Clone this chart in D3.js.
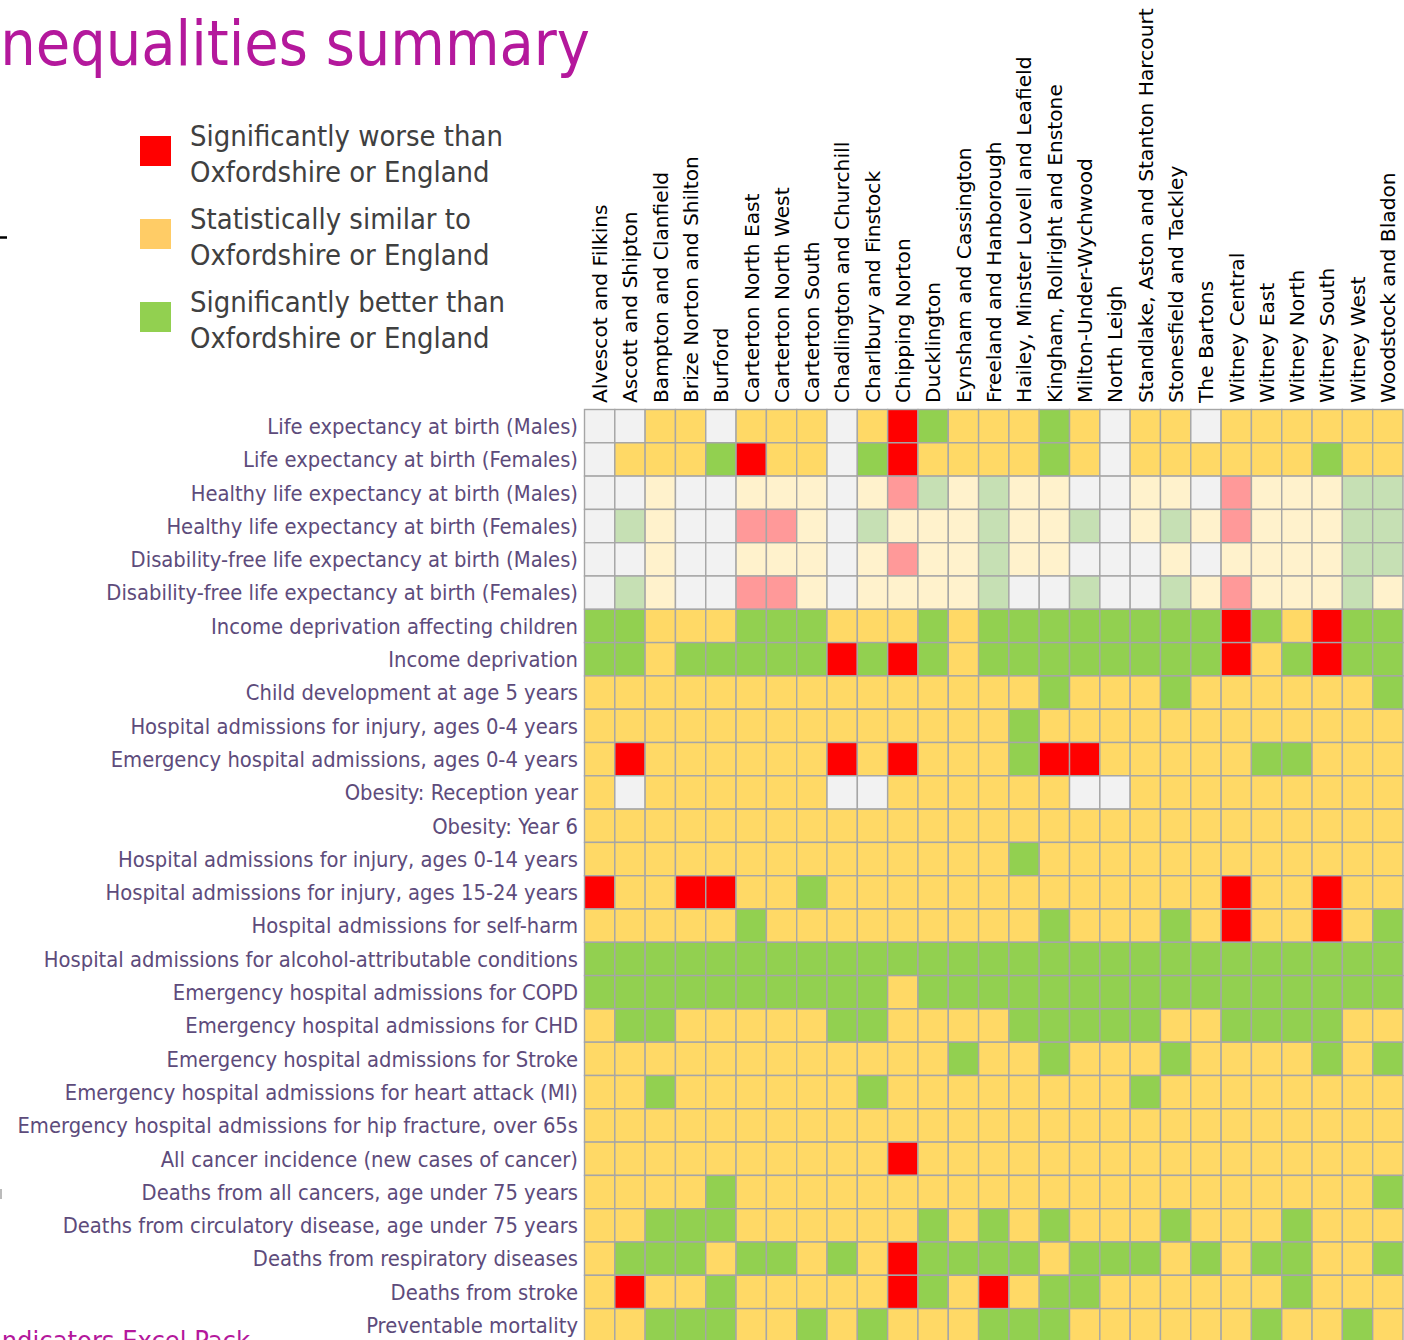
<!DOCTYPE html>
<html lang="en">
<head>
<meta charset="UTF-8"/>
<title>Inequalities summary</title>
<script src="https://cdn.jsdelivr.net/npm/d3@7"></script>
<style>
  body { margin: 0; background: #fff; overflow: hidden; }
  text { font-family: "DejaVu Sans Condensed", "DejaVu Sans", sans-serif; }
  .col-label { font-family: "DejaVu Sans", sans-serif; fill: #000; }
  .row-label { fill: #5d4b7b; }
  .legend-label { fill: #404040; }
  .title { fill: #b4189c; }
</style>
</head>
<body>
<script>

const wards = [
  "Alvescot and Filkins", "Ascott and Shipton", "Bampton and Clanfield",
  "Brize Norton and Shilton", "Burford", "Carterton North East",
  "Carterton North West", "Carterton South", "Chadlington and Churchill",
  "Charlbury and Finstock", "Chipping Norton", "Ducklington",
  "Eynsham and Cassington", "Freeland and Hanborough",
  "Hailey, Minster Lovell and Leafield", "Kingham, Rollright and Enstone",
  "Milton-Under-Wychwood", "North Leigh", "Standlake, Aston and Stanton Harcourt",
  "Stonesfield and Tackley", "The Bartons", "Witney Central", "Witney East",
  "Witney North", "Witney South", "Witney West", "Woodstock and Bladon"
]

const indicators = [
  "Life expectancy at birth (Males)",
  "Life expectancy at birth (Females)",
  "Healthy life expectancy at birth (Males)",
  "Healthy life expectancy at birth (Females)",
  "Disability-free life expectancy at birth (Males)",
  "Disability-free life expectancy at birth (Females)",
  "Income deprivation affecting children",
  "Income deprivation",
  "Child development at age 5 years",
  "Hospital admissions for injury, ages 0-4 years",
  "Emergency hospital admissions, ages 0-4 years",
  "Obesity: Reception year",
  "Obesity: Year 6",
  "Hospital admissions for injury, ages 0-14 years",
  "Hospital admissions for injury, ages 15-24 years",
  "Hospital admissions for self-harm",
  "Hospital admissions for alcohol-attributable conditions",
  "Emergency hospital admissions for COPD",
  "Emergency hospital admissions for CHD",
  "Emergency hospital admissions for Stroke",
  "Emergency hospital admissions for heart attack (MI)",
  "Emergency hospital admissions for hip fracture, over 65s",
  "All cancer incidence (new cases of cancer)",
  "Deaths from all cancers, age under 75 years",
  "Deaths from circulatory disease, age under 75 years",
  "Deaths from respiratory diseases",
  "Deaths from stroke",
  "Preventable mortality"
]

// one letter per ward: R worse, Y similar, G better, W no data,
// lower case = same result shown faded
const status = [
  "WWYYWYYYW" + "YRGYYYGYW" + "YYWYYYYYY",
  "WYYYGRYYW" + "GRYYYYGYW" + "YYYYYYGYY",
  "WWyWWyyyW" + "yrgygyyWW" + "yyWryyygg",
  "WgyWWrryW" + "gyyygyygW" + "ygyryyygg",
  "WWyWWyyyW" + "yryygyyWW" + "WyWyyyygg",
  "WgyWWrryW" + "yyyygWWgW" + "Wgyryyygy",
  "GGYYYGGGY" + "YYGYGGGGG" + "GGGRGYRGG",
  "GGYGGGGGR" + "GRGYGGGGG" + "GGGRYGRGG",
  "YYYYYYYYY" + "YYYYYYGYY" + "YGYYYYYYG",
  "YYYYYYYYY" + "YYYYYGYYY" + "YYYYYYYYY",
  "YRYYYYYYR" + "YRYYYGRRY" + "YYYYGGYYY",
  "YWYYYYYYW" + "WYYYYYYWW" + "YYYYYYYYY",
  "YYYYYYYYY" + "YYYYYYYYY" + "YYYYYYYYY",
  "YYYYYYYYY" + "YYYYYGYYY" + "YYYYYYYYY",
  "RYYRRYYGY" + "YYYYYYYYY" + "YYYRYYRYY",
  "YYYYYGYYY" + "YYYYYYGYY" + "YGYRYYRYG",
  "GGGGGGGGG" + "GGGGGGGGG" + "GGGGGGGGG",
  "GGGGGGGGG" + "GYGGGGGGG" + "GGGGGGGGG",
  "YGGYYYYYG" + "GYYYYGGGG" + "GYYGGGGYY",
  "YYYYYYYYY" + "YYYGYYGYY" + "YGYYYYGYG",
  "YYGYYYYYY" + "GYYYYYYYY" + "GYYYYYYYY",
  "YYYYYYYYY" + "YYYYYYYYY" + "YYYYYYYYY",
  "YYYYYYYYY" + "YRYYYYYYY" + "YYYYYYYYY",
  "YYYYGYYYY" + "YYYYYYYYY" + "YYYYYYYYG",
  "YYGGGYYYY" + "YYGYGYGYY" + "YGYYYGYYY",
  "YGGGYGGYG" + "YRGGGGYGG" + "GYGYGGYYG",
  "YRYYGYYYY" + "YRGYRYGGY" + "YYYYYGYYY",
  "YYGGGYYGY" + "GYYYGGGYY" + "YYYYGYYGY"
]

const statusCodes = ["R", "Y", "G", "W", "r", "y", "g"]

const legendLabels = [
  ["Significantly worse than", "Oxfordshire or England"],
  ["Statistically similar to", "Oxfordshire or England"],
  ["Significantly better than", "Oxfordshire or England"]
]
const legendCodes = ["R", "Y", "G"]

const titleText = "Inequalities summary"
const footerText = "Indicators Excel Pack"

const outerWidth = 1404,
      outerHeight = 1340

const grid = {left: 584.5, right: 1403, top: 409.5, rowHeight: 33.3}

const colour = d3.scaleOrdinal()
    .domain(statusCodes)
    .range(["#ff0000", "#ffd966", "#92d050", "#f2f2f2", "#ff9999", "#fff2cc", "#c6e0b4"])

const legendColour = d3.scaleOrdinal()
    .domain(legendCodes)
    .range(["#ff0000", "#ffcc66", "#92d050"])

const svg = d3.select("body").append("svg")
    .attr("width", outerWidth)
    .attr("height", outerHeight)

// set a font size so that one sample text gets the wanted width
const fitFont = (sel, node, target, measure) => {
  sel.style("font-size", "20px")
  const len = measure ? measure(node) : node.getComputedTextLength()
  sel.style("font-size", (20 * target / len) + "px")
}

const x = d3.scaleBand()
    .domain(wards)
    .range([grid.left, grid.right])

const y = d3.scaleBand()
    .domain(indicators)
    .range([grid.top, grid.top + indicators.length * grid.rowHeight])

const cells = indicators.flatMap((ind, i) =>
  wards.map((ward, j) => ({ind, ward, code: status[i][j]})))

svg.append("g")
  .selectAll("rect")
  .data(cells)
  .join("rect")
    .attr("x", d => x(d.ward))
    .attr("y", d => y(d.ind))
    .attr("width", x.bandwidth())
    .attr("height", y.bandwidth())
    .attr("fill", d => colour(d.code))
    .attr("stroke", "#a6a6a6")
    .attr("stroke-width", 1.4)

// indicator names on the left
const rowLabels = svg.append("g")
  .selectAll("text")
  .data(indicators)
  .join("text")
    .attr("class", "row-label")
    .attr("x", 578)
    .attr("y", d => y(d) + y.bandwidth() / 2)
    .attr("dy", "0.36em")
    .attr("text-anchor", "end")
    .text(d => d)
fitFont(rowLabels, rowLabels.nodes()[21], 561)

// ward names, rotated
const colLabels = svg.append("g")
  .selectAll("text")
  .data(wards)
  .join("text")
    .attr("class", "col-label")
    .attr("transform", d => `translate(${x(d) + x.bandwidth() / 2},403) rotate(-90)`)
    .attr("dy", "0.36em")
    .text(d => d)
fitFont(colLabels, colLabels.nodes()[18], 395)

// title, the first letter runs off the page
const title = svg.append("text")
    .attr("class", "title")
    .attr("x", 590)
    .attr("y", 65)
    .attr("text-anchor", "end")
    .text(titleText)
fitFont(title, title.node(), 590, n => n.getSubStringLength(1, titleText.length - 1))

// legend
const legend = svg.append("g")
  .selectAll("g")
  .data(legendCodes)
  .join("g")
    .attr("transform", (d, i) => `translate(140,${136 + i * 83})`)

legend.append("rect")
    .attr("width", 31)
    .attr("height", 30)
    .attr("fill", d => legendColour(d))

const legendText = legend.append("text")
    .attr("class", "legend-label")
    .attr("x", 50)
    .attr("y", 10)

legendText.selectAll("tspan")
  .data((d, i) => legendLabels[i])
  .join("tspan")
    .attr("x", 50)
    .attr("dy", (d, i) => i === 0 ? 0 : 36)
    .text(d => d)
fitFont(legendText, legendText.nodes()[0].firstChild, 313)

// bits of the slide that show at the edges
svg.append("line")
    .attr("x1", 0).attr("x2", 7)
    .attr("y1", 237.5).attr("y2", 237.5)
    .attr("stroke", "#000")
    .attr("stroke-width", 2.5)

svg.append("rect")
    .attr("x", 0).attr("y", 1189)
    .attr("width", 2).attr("height", 10)
    .attr("fill", "#bbbbbb")

svg.append("text")
    .attr("class", "title")
    .attr("x", 250)
    .attr("y", 1350)
    .attr("text-anchor", "end")
    .style("font-size", "27px")
    .text(footerText)

</script>
</body>
</html>
